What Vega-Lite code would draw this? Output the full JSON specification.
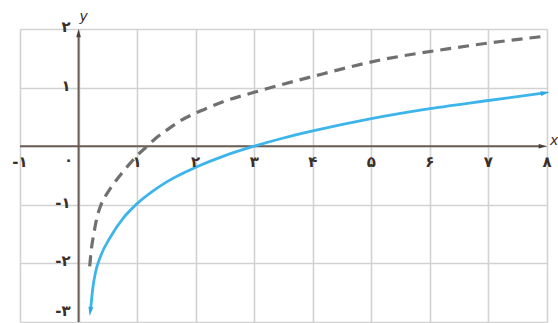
{
  "$schema": "https://vega.github.io/schema/vega-lite/v6.json",
  "width": 527,
  "height": 293,
  "autosize": "none",
  "padding": {"left": 20, "top": 29, "right": 11, "bottom": 1},
  "background": "white",
  "config": {
    "view": {"stroke": null},
    "font": "DejaVu Sans"
  },
  "datasets": {
    "solid": [
      {"x": 0.21, "y": -2.75}, {"x": 0.24, "y": -2.45}, {"x": 0.29, "y": -2.15},
      {"x": 0.375, "y": -1.88}, {"x": 0.55, "y": -1.54}, {"x": 0.77, "y": -1.22},
      {"x": 1.0, "y": -0.98}, {"x": 1.25, "y": -0.78}, {"x": 1.52, "y": -0.6},
      {"x": 2.0, "y": -0.36}, {"x": 2.5, "y": -0.16}, {"x": 3.0, "y": 0.0},
      {"x": 3.5, "y": 0.14}, {"x": 4.0, "y": 0.26}, {"x": 5.0, "y": 0.47},
      {"x": 6.0, "y": 0.64}, {"x": 7.0, "y": 0.78}, {"x": 7.9, "y": 0.9}
    ],
    "dashed": [
      {"x": 0.19, "y": -2.05}, {"x": 0.22, "y": -1.75}, {"x": 0.26, "y": -1.5},
      {"x": 0.3, "y": -1.28}, {"x": 0.375, "y": -1.02}, {"x": 0.46, "y": -0.85},
      {"x": 0.55, "y": -0.71}, {"x": 0.66, "y": -0.56}, {"x": 0.77, "y": -0.42},
      {"x": 0.9, "y": -0.27}, {"x": 1.0, "y": -0.16}, {"x": 1.15, "y": -0.02},
      {"x": 1.3, "y": 0.12}, {"x": 1.5, "y": 0.27}, {"x": 1.75, "y": 0.44},
      {"x": 2.08, "y": 0.6}, {"x": 2.5, "y": 0.77}, {"x": 3.0, "y": 0.92},
      {"x": 4.0, "y": 1.19}, {"x": 5.15, "y": 1.47}, {"x": 6.3, "y": 1.66},
      {"x": 7.0, "y": 1.76}, {"x": 8.0, "y": 1.88}
    ],
    "xlabels": [
      {"v": -1, "t": "-۱"}, {"v": 1, "t": "۱"}, {"v": 2, "t": "۲"},
      {"v": 3, "t": "۳"}, {"v": 4, "t": "۴"}, {"v": 5, "t": "۵"},
      {"v": 6, "t": "۶"}, {"v": 7, "t": "۷"}, {"v": 8, "t": "۸"}
    ],
    "ylabels": [
      {"v": 2, "t": "۲"}, {"v": 1, "t": "۱"}, {"v": -1, "t": "-۱"},
      {"v": -2, "t": "-۲"}
    ],
    "one": [{}]
  },
  "encoding": {
    "x": {"type": "quantitative", "scale": {"domain": [-1, 8], "nice": false, "zero": false}},
    "y": {"type": "quantitative", "scale": {"domain": [-3, 2], "nice": false, "zero": false}}
  },
  "layer": [
    {
      "data": {"name": "solid"},
      "mark": {"type": "line", "interpolate": "monotone", "opacity": 0},
      "encoding": {
        "x": {"field": "x", "type": "quantitative",
          "axis": {"values": [-1, 0, 1, 2, 3, 4, 5, 6, 7, 8], "grid": true, "gridColor": "#d2d2d2", "gridWidth": 1.6, "labels": false, "ticks": false, "domain": false, "title": null}},
        "y": {"field": "y", "type": "quantitative",
          "axis": {"values": [-3, -2, -1, 0, 1, 2], "grid": true, "gridColor": "#d2d2d2", "gridWidth": 1.6, "labels": false, "ticks": false, "domain": false, "title": null}}
      }
    },
    {
      "data": {"name": "one"},
      "mark": {"type": "rule", "stroke": "#6a5d55", "strokeWidth": 2},
      "encoding": {"x": {"datum": -1}, "x2": {"datum": 7.9}, "y": {"datum": 0}}
    },
    {
      "data": {"name": "one"},
      "mark": {"type": "rule", "stroke": "#6a5d55", "strokeWidth": 2},
      "encoding": {"x": {"datum": 0}, "y": {"datum": -3}, "y2": {"datum": 1.9}}
    },
    {
      "data": {"name": "one"},
      "mark": {"type": "point", "shape": "M0,-1L0.55,1L-0.55,1Z", "filled": true, "fill": "#4a3e37", "opacity": 1, "size": 70, "angle": 90},
      "encoding": {"x": {"datum": 7.93}, "y": {"datum": 0}}
    },
    {
      "data": {"name": "one"},
      "mark": {"type": "point", "shape": "M0,-1L0.55,1L-0.55,1Z", "filled": true, "fill": "#4a3e37", "opacity": 1, "size": 70, "angle": 0},
      "encoding": {"x": {"datum": 0}, "y": {"datum": 1.93}}
    },
    {
      "data": {"name": "dashed"},
      "mark": {"type": "line", "stroke": "#707070", "strokeWidth": 3.2, "strokeDash": [11, 7], "interpolate": "monotone"},
      "encoding": {"x": {"field": "x", "type": "quantitative"}, "y": {"field": "y", "type": "quantitative"}}
    },
    {
      "data": {"name": "solid"},
      "mark": {"type": "line", "stroke": "#3db5ea", "strokeWidth": 2.8, "interpolate": "monotone"},
      "encoding": {"x": {"field": "x", "type": "quantitative"}, "y": {"field": "y", "type": "quantitative"}}
    },
    {
      "data": {"name": "one"},
      "mark": {"type": "point", "shape": "M0,-1L0.55,1L-0.55,1Z", "filled": true, "fill": "#2ea8e4", "opacity": 1, "size": 80, "angle": 188, "clip": false},
      "encoding": {"x": {"datum": 0.2}, "y": {"datum": -2.82}}
    },
    {
      "data": {"name": "one"},
      "mark": {"type": "point", "shape": "M0,-1L0.55,1L-0.55,1Z", "filled": true, "fill": "#2ea8e4", "opacity": 1, "size": 80, "angle": 80},
      "encoding": {"x": {"datum": 7.97}, "y": {"datum": 0.91}}
    },
    {
      "data": {"name": "xlabels"},
      "mark": {"type": "text", "fontSize": 15, "fontWeight": "bold", "fill": "#3b2f29", "dy": 16, "align": "center"},
      "encoding": {"x": {"field": "v", "type": "quantitative"}, "y": {"datum": 0}, "text": {"field": "t"}}
    },
    {
      "data": {"name": "one"},
      "mark": {"type": "text", "fontSize": 15, "fontWeight": "bold", "fill": "#3b2f29", "dy": 14, "dx": -10, "align": "center", "text": "۰"},
      "encoding": {"x": {"datum": 0}, "y": {"datum": 0}}
    },
    {
      "data": {"name": "ylabels"},
      "mark": {"type": "text", "fontSize": 15, "fontWeight": "bold", "fill": "#3b2f29", "dx": -8, "dy": -2, "align": "right", "baseline": "middle"},
      "encoding": {"x": {"datum": 0}, "y": {"field": "v", "type": "quantitative"}, "text": {"field": "t"}}
    },
    {
      "data": {"name": "one"},
      "mark": {"type": "text", "fontSize": 15, "fontWeight": "bold", "fill": "#3b2f29", "dx": -8, "dy": -3, "align": "right", "baseline": "bottom", "text": "-۳"},
      "encoding": {"x": {"datum": 0}, "y": {"datum": -3}}
    },
    {
      "data": {"name": "one"},
      "mark": {"type": "text", "fontSize": 14, "fontStyle": "italic", "fill": "#3b2f29", "dx": 1, "dy": -12, "align": "left", "text": "y"},
      "encoding": {"x": {"datum": 0}, "y": {"datum": 2}}
    },
    {
      "data": {"name": "one"},
      "mark": {"type": "text", "fontSize": 14, "fontStyle": "italic", "fill": "#3b2f29", "dx": 3, "dy": -5, "align": "left", "text": "x"},
      "encoding": {"x": {"datum": 8}, "y": {"datum": 0}}
    }
  ]
}
